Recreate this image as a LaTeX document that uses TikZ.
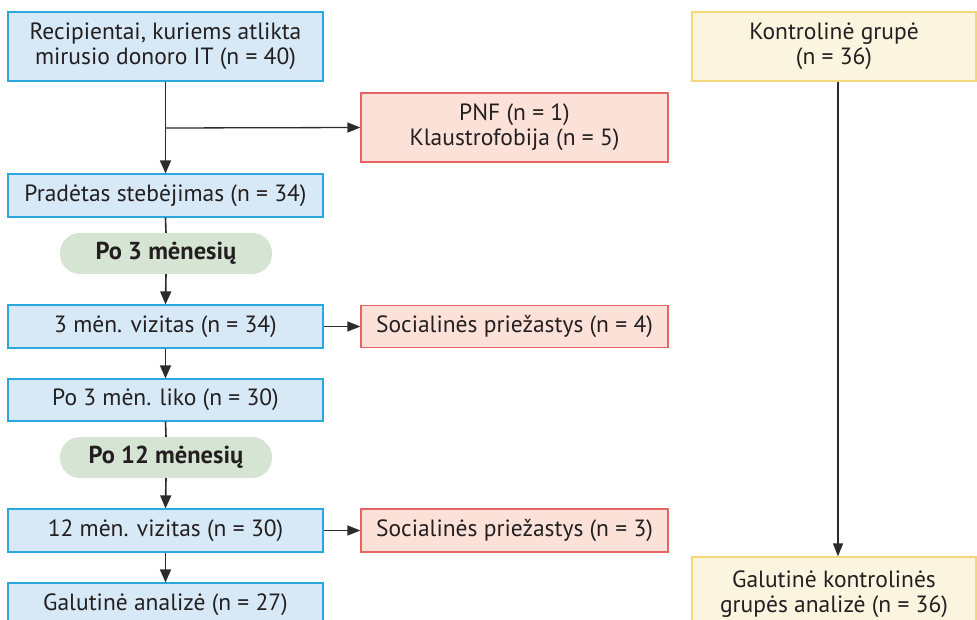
\documentclass[tikz,border=0pt]{standalone}
\usepackage{fontspec}
\setmainfont{PT Sans}
\usetikzlibrary{arrows.meta}
\definecolor{bluefill}{HTML}{D7E9F7}
\definecolor{blueline}{HTML}{2AA7E1}
\definecolor{redfill}{HTML}{FCE1D9}
\definecolor{redline}{HTML}{E86464}
\definecolor{greenfill}{HTML}{D6E4D3}
\definecolor{yelfill}{HTML}{FBF4DF}
\definecolor{yelline}{HTML}{F4D77A}
\definecolor{txt}{HTML}{231F20}
\definecolor{conn}{HTML}{2B2B2B}
\begin{document}
\begin{tikzpicture}[x=1pt,y=-1pt,
  every node/.style={text=txt, font=\fontsize{23.5}{25}\selectfont, align=center, inner sep=0pt},
  bluebox/.style={draw=blueline, fill=bluefill, line width=1.2pt, minimum width=315pt},
  redbox/.style={draw=redline, fill=redfill, line width=1.2pt, minimum width=307pt},
  yelbox/.style={draw=yelline, fill=yelfill, line width=1.2pt, minimum width=284pt},
  pill/.style={fill=greenfill, rounded corners=20pt, minimum width=212pt, minimum height=41pt, font=\fontsize{24.5}{25}\selectfont\bfseries},
  conline/.style={draw=conn, line width=1.6pt},
  arr/.style={conline, -{Triangle[length=13pt,width=11pt]}},
  harr/.style={draw=conn, line width=1.3pt, -{Triangle[length=13pt,width=10pt]}}
]
\useasboundingbox (0,0) rectangle (977,620);

\node[bluebox, minimum height=69pt] (rec) at (165.5,46.5) {Recipientai, kuriems atlikta\\mirusio donoro IT (n = 40)};
\node[redbox, minimum height=69pt] (pnf) at (514.5,127.5) {PNF (n = 1)\\Klaustrofobija (n = 5)};
\node[bluebox, minimum height=43pt] (prad) at (165.5,195.5) {Pradėtas stebėjimas (n = 34)};
\node[pill] (p3) at (166,253.5) {Po 3 mėnesių};
\node[bluebox, minimum height=43pt] (v3) at (165.5,326.5) {3 mėn. vizitas (n = 34)};
\node[redbox, minimum height=42pt] (s4) at (514.5,326.5) {Socialinės priežastys (n = 4)};
\node[bluebox, minimum height=42pt] (liko) at (165.5,400) {Po 3 mėn. liko (n = 30)};
\node[pill] (p12) at (166,457.5) {Po 12 mėnesių};
\node[bluebox, minimum height=43pt] (v12) at (165.5,530.5) {12 mėn. vizitas (n = 30)};
\node[redbox, minimum height=43pt] (s3) at (514.5,530.5) {Socialinės priežastys (n = 3)};
\node[bluebox, minimum height=43pt] (gal) at (165.5,604.5) {Galutinė analizė (n = 27)};

\node[yelbox, minimum height=69pt] (kon) at (834,46.5) {Kontrolinė grupė\\(n = 36)};
\node[yelbox, minimum height=74pt] (galk) at (834,594) {Galutinė kontrolinės\\grupės analizė (n = 36)};

\coordinate (br) at (166,128);

\draw[arr] (rec.south) -- (prad.north);
\draw[harr] (br) -- (pnf.west);
\draw[conline] (prad.south) -- (p3.north);
\draw[arr] (p3.south) -- (v3.north);
\draw[harr] (v3.east) -- (s4.west);
\draw[arr] (v3.south) -- (liko.north);
\draw[conline] (liko.south) -- (p12.north);
\draw[arr] (p12.south) -- (v12.north);
\draw[harr] (v12.east) -- (s3.west);
\draw[arr] (v12.south) -- (gal.north);
\draw[harr] (kon.south -| 838,0) -- (galk.north -| 838,0);
\end{tikzpicture}
\end{document}
